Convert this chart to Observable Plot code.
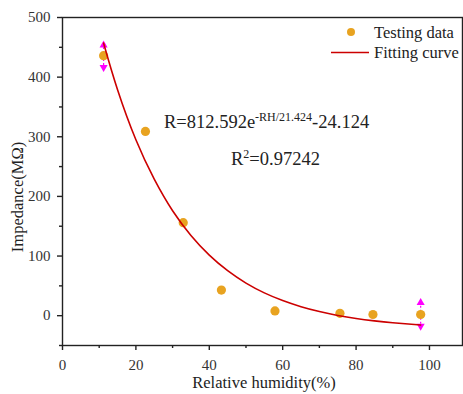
<!DOCTYPE html>
<html><head><meta charset="utf-8">
<script src="https://cdn.jsdelivr.net/npm/d3@7"></script>
<script src="https://cdn.jsdelivr.net/npm/@observablehq/plot@0.6"></script>
<style>body{margin:0;background:#fff;}</style>
</head><body><div id="chart"></div>
<script>
// Testing data
const rhTest  = [11.2, 22.6, 32.9, 43.3, 57.9, 75.6, 84.6, 97.6];
const impTest = [436, 309, 156, 43, 8, 4, 2, 2];
// Fitting curve points
const rhFit  = [11.2, 15, 20, 25, 30, 35, 40, 45, 50, 55, 60, 65, 70, 75, 80, 85, 90, 97.6];
const impFit = [457, 379, 295, 229, 176, 134.5, 101.5, 75.4, 54.6, 38.2, 25.3, 15, 6.9, 0.4, -4.7, -8.7, -11.9, -15.6];
// Magenta reader markers
const markRH = [11.2, 97.6];
const markLow = [413, -21];
const markHigh = [457, 25];
// Ticks
const xTicks = [0, 20, 40, 60, 80, 100];
const xMinor = [10, 30, 50, 70, 90];
const yTicks = [0, 100, 200, 300, 400, 500];
const yMinor = [-50, 50, 150, 250, 350, 450];
// Texts
const xLabel = "Relative humidity(%)";
const yLabel = "Impedance(MΩ)";
const legendNames = ["Testing data", "Fitting curve"];

const test = rhTest.map((x, i) => ({x, y: impTest[i]}));
const fit = rhFit.map((x, i) => ({x, y: impFit[i]}));
const marks = markRH.map((x, i) => ({x, lo: markLow[i], hi: markHigh[i]}));

const dotColor = "#E8A320";
const curveColor = "#CC0000";
const magenta = "#FF00FF";
const axisColor = "#222";
const fam = "'Liberation Serif', serif";

const chart = Plot.plot({
  width: 463,
  height: 394,
  marginLeft: 62,
  marginRight: 1,
  marginTop: 17,
  marginBottom: 49,
  style: `font-family: ${fam}; font-size: 15px; background: #fff;`,
  x: {domain: [0, 109], label: null},
  y: {domain: [-50, 500], label: null},
  marks: [
    Plot.frame({stroke: axisColor, strokeWidth: 1.4}),
    Plot.axisX(xTicks, {tickSize: 5, tickPadding: 9, fontSize: 15, color: "#333", stroke: axisColor, strokeWidth: 1.4}),
    Plot.axisX(xMinor, {tickSize: 3, text: null, stroke: axisColor, strokeWidth: 1.4}),
    Plot.axisY(yTicks, {tickSize: 5, tickPadding: 7, fontSize: 15, color: "#333", stroke: axisColor, strokeWidth: 1.4}),
    Plot.axisY(yMinor, {tickSize: 3, text: null, stroke: axisColor, strokeWidth: 1.4}),
    Plot.ruleX(marks, {x: "x", y1: "lo", y2: "hi", stroke: magenta, strokeWidth: 1.2, strokeDasharray: "2,2"}),
    Plot.dot(marks, {x: "x", y: "hi", symbol: "triangle", r: 3, fill: magenta, stroke: null, dy: 2}),
    Plot.dot(marks, {x: "x", y: "lo", symbol: "triangle", r: 3, fill: magenta, stroke: null, rotate: 180, dy: -2}),
    Plot.dot(test, {x: "x", y: "y", r: 4.6, fill: dotColor, stroke: null}),
    Plot.line(fit, {x: "x", y: "y", stroke: curveColor, strokeWidth: 1.6, curve: "natural"})
  ]
});

const svg = d3.select(chart);
function txt(x, y, size, anchor) {
  return svg.append("text").attr("x", x).attr("y", y)
    .style("font-family", fam).style("font-size", size + "px")
    .attr("text-anchor", anchor).attr("fill", "#222");
}
// axis titles
txt(264, 388, 16.5, "middle").text(xLabel);
svg.append("text").attr("transform", "translate(23,197) rotate(-90)").attr("text-anchor", "middle")
  .style("font-family", fam).style("font-size", "16.5px").attr("fill", "#222").text(yLabel);
// legend
svg.append("circle").attr("cx", 351).attr("cy", 32).attr("r", 4).attr("fill", dotColor);
txt(374, 38, 16.5, "start").text(legendNames[0]);
svg.append("line").attr("x1", 331).attr("x2", 369).attr("y1", 52.5).attr("y2", 52.5).attr("stroke", curveColor).attr("stroke-width", 1.6);
txt(374, 58, 16.5, "start").text(legendNames[1]);
// equation
const eq = txt(164, 128, 18.5, "start");
eq.append("tspan").text("R=812.592e");
eq.append("tspan").attr("dy", -7).style("font-size", "12px").text("-RH/21.424");
eq.append("tspan").attr("dy", 7).style("font-size", "18.5px").text("-24.124");
const r2 = txt(231, 165, 18.5, "start");
r2.append("tspan").text("R");
r2.append("tspan").attr("dy", -7).style("font-size", "12px").text("2");
r2.append("tspan").attr("dy", 7).style("font-size", "18.5px").text("=0.97242");

document.getElementById("chart").appendChild(chart);
</script>
</body></html>
